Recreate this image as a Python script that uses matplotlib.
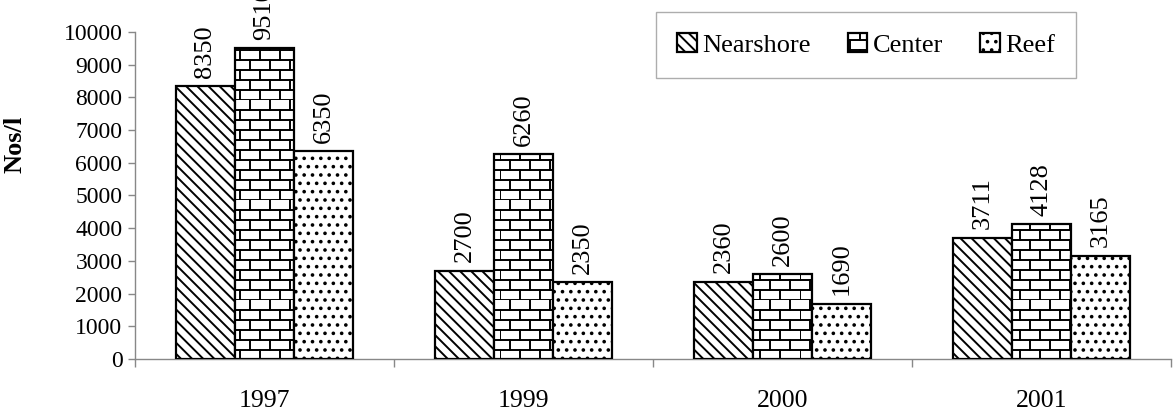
import warnings
warnings.filterwarnings("ignore")
import numpy as np
import matplotlib
matplotlib.use("Agg")
import matplotlib.pyplot as plt
import matplotlib.hatch as mhatch
from matplotlib.path import Path

# ---------------- data ----------------
years = ["1997", "1999", "2000", "2001"]
series_names = ["Nearshore", "Center", "Reef"]
nearshore = [8350, 2700, 2360, 3711]
center = [9510, 6260, 2600, 4128]
reef = [6350, 2350, 1690, 3165]
y_ticks = [0, 1000, 2000, 3000, 4000, 5000, 6000, 7000, 8000, 9000, 10000]


# ---------------- custom brick hatch ----------------
class BrickHatch:
    rows = 10
    per_row = 5

    def __init__(self, hatch, density):
        self.active = "B" in hatch
        if self.active:
            self.num_vertices = 2 * self.rows + 2 * self.rows * self.per_row
        else:
            self.num_vertices = 0

    def set_vertices_and_codes(self, vertices, codes):
        verts = []
        cds = []
        h = 1.0 / self.rows
        w = 1.0 / self.per_row
        for i in range(self.rows):
            y = i * h
            verts += [(0.0, y), (1.0, y)]
            cds += [Path.MOVETO, Path.LINETO]
        for i in range(self.rows):
            off = (i % 2) * w / 2
            for j in range(self.per_row):
                x = j * w + off
                verts += [(x, i * h), (x, (i + 1) * h)]
                cds += [Path.MOVETO, Path.LINETO]
        vertices[:] = np.array(verts)
        codes[:] = np.array(cds)


mhatch._hatch_types.append(BrickHatch)
mhatch._validate_hatch_pattern = lambda h: None

plt.rcParams["font.family"] = ["Liberation Serif", "DejaVu Serif"]
plt.rcParams["hatch.linewidth"] = 1.4
plt.rcParams["hatch.color"] = "black"

fig = plt.figure(figsize=(11.74, 4.13), dpi=100)
ax = fig.add_axes([135 / 1174, 1 - 359 / 413, 1036 / 1174, (359 - 32) / 413])

x = np.arange(len(years))
bw = 0.228
hatches = ["\\\\\\", "B", ".."]
data = [nearshore, center, reef]
for k, (name, vals, hat) in enumerate(zip(series_names, data, hatches)):
    bars = ax.bar(x + (k - 1) * bw, vals, bw, facecolor="white", edgecolor="black",
                  linewidth=1.6, hatch=hat, label=name, zorder=3)
    for b, v in zip(bars, vals):
        ax.annotate(str(v), (b.get_x() + b.get_width() / 2, b.get_height()),
                    xytext=(0, 6), textcoords="offset points", rotation=90,
                    ha="center", va="bottom", fontsize=19, annotation_clip=False)

ax.set_xlim(-0.5, 3.5)
ax.set_ylim(0, 10000)
ax.set_yticks(y_ticks)
ax.set_yticklabels([str(t) for t in y_ticks], fontsize=17)
ax.set_xticks(x)
ax.set_xticklabels(years, fontsize=18.5)
ax.set_xticks(np.arange(-0.5, 4.0, 1.0), minor=True)
ax.tick_params(axis="x", which="major", length=0, pad=22)
ax.tick_params(axis="x", which="minor", length=6, color="#888888", width=1)
ax.tick_params(axis="y", length=5, color="#888888", width=1, pad=4)

for s in ["top", "right"]:
    ax.spines[s].set_visible(False)
for s in ["left", "bottom"]:
    ax.spines[s].set_color("#888888")
    ax.spines[s].set_linewidth(1)

ax.set_ylabel("Nos/l", fontsize=19, fontweight="bold")
ax.yaxis.set_label_coords(-0.105, 0.657)

leg = ax.legend(loc="center", bbox_to_anchor=(866 / 1174, 1 - 45 / 413),
                bbox_transform=fig.transFigure, ncol=3, fontsize=19,
                frameon=True, fancybox=False, handlelength=0.75, handleheight=0.7,
                handletextpad=0.2, columnspacing=1.4, borderpad=0.8,
                borderaxespad=0)
leg.get_frame().set_edgecolor("#999999")
leg.get_frame().set_linewidth(1)

fig.savefig("out.png", dpi=100)
